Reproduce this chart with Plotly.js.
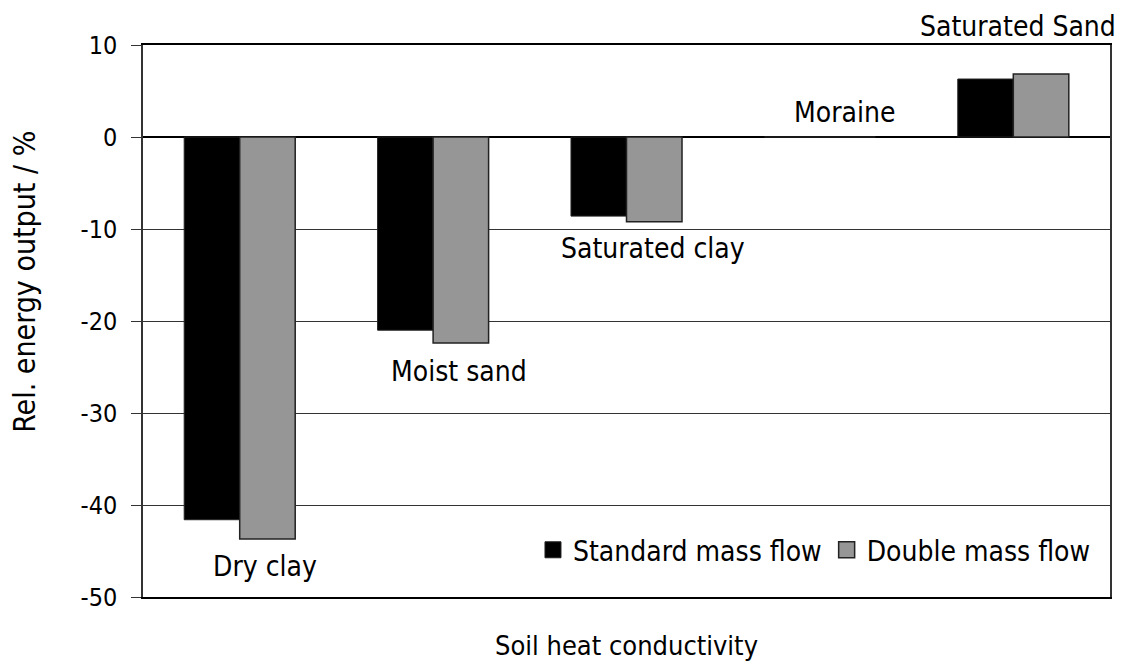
<!DOCTYPE html>
<html><head><meta charset="utf-8">
<script src="https://cdn.plot.ly/plotly-3.0.1.min.js"></script>
<style>body{margin:0;background:#fff}#c{width:1126px;height:666px}</style>
</head><body><div id="c"></div>
<script>
const categories = ["Dry clay", "Moist sand", "Saturated clay", "Moraine", "Saturated Sand"];
const standardFlow = [-41.6, -21.0, -8.6, 0, 6.3];
const doubleFlow = [-43.7, -22.4, -9.2, 0, 6.85];
const labelY = [-46.7, -25.5, -12.1, 2.7, 12.0];
const labelShift = [25, 26, 26, 25, 5];
const yTicks = [10, 0, -10, -20, -30, -40, -50];
const yTickLabels = ["10", "0", "-10", "-20", "-30", "-40", "-50"];
const yTitle = "Rel. energy output / %";
const xTitle = "Soil heat conductivity";

const FONT = "DejaVu Sans Condensed, DejaVu Sans, sans-serif";
const colors = ['#000000', '#969696'];
const names = ['Standard mass flow', 'Double mass flow'];
const traces = [
  {type:'bar', name:names[0], x:categories, y:standardFlow, showlegend:false,
   marker:{color:colors[0], line:{color:'#222', width:1}}},
  {type:'bar', name:names[1], x:categories, y:doubleFlow, showlegend:false,
   marker:{color:colors[1], line:{color:'#222', width:1.5}}},
  // legend entries (no visible points)
  {type:'scatter', mode:'markers', name:names[0], x:[categories[0]], y:[null],
   marker:{symbol:'square', size:22, color:colors[0], line:{color:'#222', width:1}}},
  {type:'scatter', mode:'markers', name:names[1], x:[categories[0]], y:[null],
   marker:{symbol:'square', size:22, color:colors[1], line:{color:'#222', width:1.5}}}
];
const annotations = categories.map((c,i)=>{
  const a = {x:c, xref:'x', text:c, showarrow:false, xshift:labelShift[i],
    font:{family:FONT, size:28, color:'#000'}, yanchor:'middle'};
  if (labelY[i] > 10) { a.yref='paper'; a.y=1; a.yshift=(labelY[i]-10)*9.2; }
  else { a.yref='y'; a.y=labelY[i]; }
  return a;
});
annotations.push({xref:'paper', yref:'paper', x:-0.122, y:0.571, text:yTitle, textangle:-90,
  showarrow:false, xanchor:'center', yanchor:'middle', font:{family:FONT, size:30, color:'#000'}});
const layout = {
  width:1126, height:666,
  margin:{l:143, r:16, t:45, b:69},
  paper_bgcolor:'#fff', plot_bgcolor:'#fff',
  barmode:'group', bargap:0.426, bargroupgap:0,
  font:{family:FONT, size:26, color:'#000'},
  showlegend:true,
  legend:{orientation:'h', x:0.9855, xanchor:'right', y:0.085, yanchor:'middle',
    font:{family:FONT, size:28}, bgcolor:'rgba(0,0,0,0)', traceorder:'normal',
    itemwidth:30, itemsizing:'trace'},
  xaxis:{type:'category', range:[-0.5, categories.length-0.5], showticklabels:false, ticks:'',
    showline:true, linecolor:'#000', linewidth:1.5, mirror:true,
    title:{text:xTitle, font:{family:FONT, size:27}, standoff:38}},
  yaxis:{range:[-50,10], tickvals:yTicks, ticktext:yTickLabels, ticks:'outside', ticklen:10, tickcolor:'#333',
    ticklabelstandoff:9,
    showline:true, linecolor:'#333', linewidth:1.5, mirror:true,
    showgrid:true, gridcolor:'#333', gridwidth:1,
    zeroline:true, zerolinecolor:'#000', zerolinewidth:1.5,
    tickfont:{family:FONT, size:25}},
  annotations:annotations
};
Plotly.newPlot('c', traces, layout, {displayModeBar:false});
</script></body></html>
